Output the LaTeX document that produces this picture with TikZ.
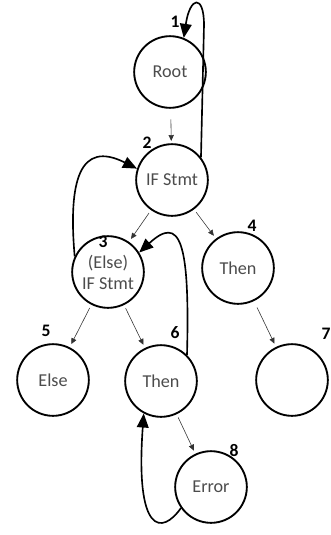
\documentclass[tikz,border=0pt]{standalone}
\usepackage{fontspec}
\setmainfont{Carlito}
\usetikzlibrary{arrows.meta}
\tikzset{
	state/.style={draw, circle, line width=1.6pt, minimum size=2.15cm, inner sep=0pt,
		text=black!70, font=\fontsize{15.5}{18}\selectfont, align=center},
	num/.style={font=\bfseries\fontsize{15}{17}\selectfont},
	thin/.style={-{Triangle[length=5pt,width=4.5pt]}, line width=0.5pt, black!80},
	back/.style={-{Triangle[length=12pt,width=10pt]}, line width=1.4pt}
}
\begin{document}
\begin{tikzpicture}[x=0.03cm,y=-0.03cm]
			\useasboundingbox (0,0) rectangle (330,535);
			\node (n1) [state] at (170,72) {Root};
			\node (n2) [state] at (172,180) {IF Stmt};
			\node (n3) [state] at (108,272) {(Else)\\IF Stmt};
			\node (n4) [state] at (238,268) {Then};
			\node (n5) [state] at (53,380) {Else};
			\node (n6) [state] at (161,381) {Then};
			\node (n7) [state] at (292,380) {};
			\node (n8) [state] at (211,487) {Error};
			\node (l1) [num] at (175,22) {1};
			\node (l2) [num] at (147,143) {2};
			\node (l3) [num] at (103,242) {3};
			\node (l4) [num] at (252,226) {4};
			\node (l5) [num] at (46,331) {5};
			\node (l6) [num] at (175,333) {6};
			\node (l7) [num] at (326,334) {7};
			\node (l8) [num] at (234,450) {8};
			\draw[thin, shorten <=9pt, shorten >=2pt] (n1) -- (n2);
			\draw[thin, shorten <=3pt, shorten >=3pt] (n2) -- (n3);
			\draw[thin, shorten <=3pt, shorten >=3pt] (n2) -- (n4);
			\draw[thin, shorten <=3pt, shorten >=3pt] (n3) -- (n5);
			\draw[thin, shorten <=3pt, shorten >=3pt] (n3) -- (n6);
			\draw[thin, shorten <=6pt, shorten >=3pt] (n4) -- (n7);
			\draw[thin, shorten <=3pt, shorten >=3pt] (n6) -- (n8);
			% looping back edges
			\draw[back] (n2.38) -- (204,25) .. controls (204,-6) and (190,-4) .. (n1.68);
			\draw[back] (n3.155) .. controls (68,180) and (80,140) .. (n2.162);
			\draw[back] (n6.45) .. controls (190,240) and (180,215) .. (n3.32);
			\draw[back] (n8.215) .. controls (162,535) and (135,535) .. (n6.242);
\end{tikzpicture}
\end{document}
